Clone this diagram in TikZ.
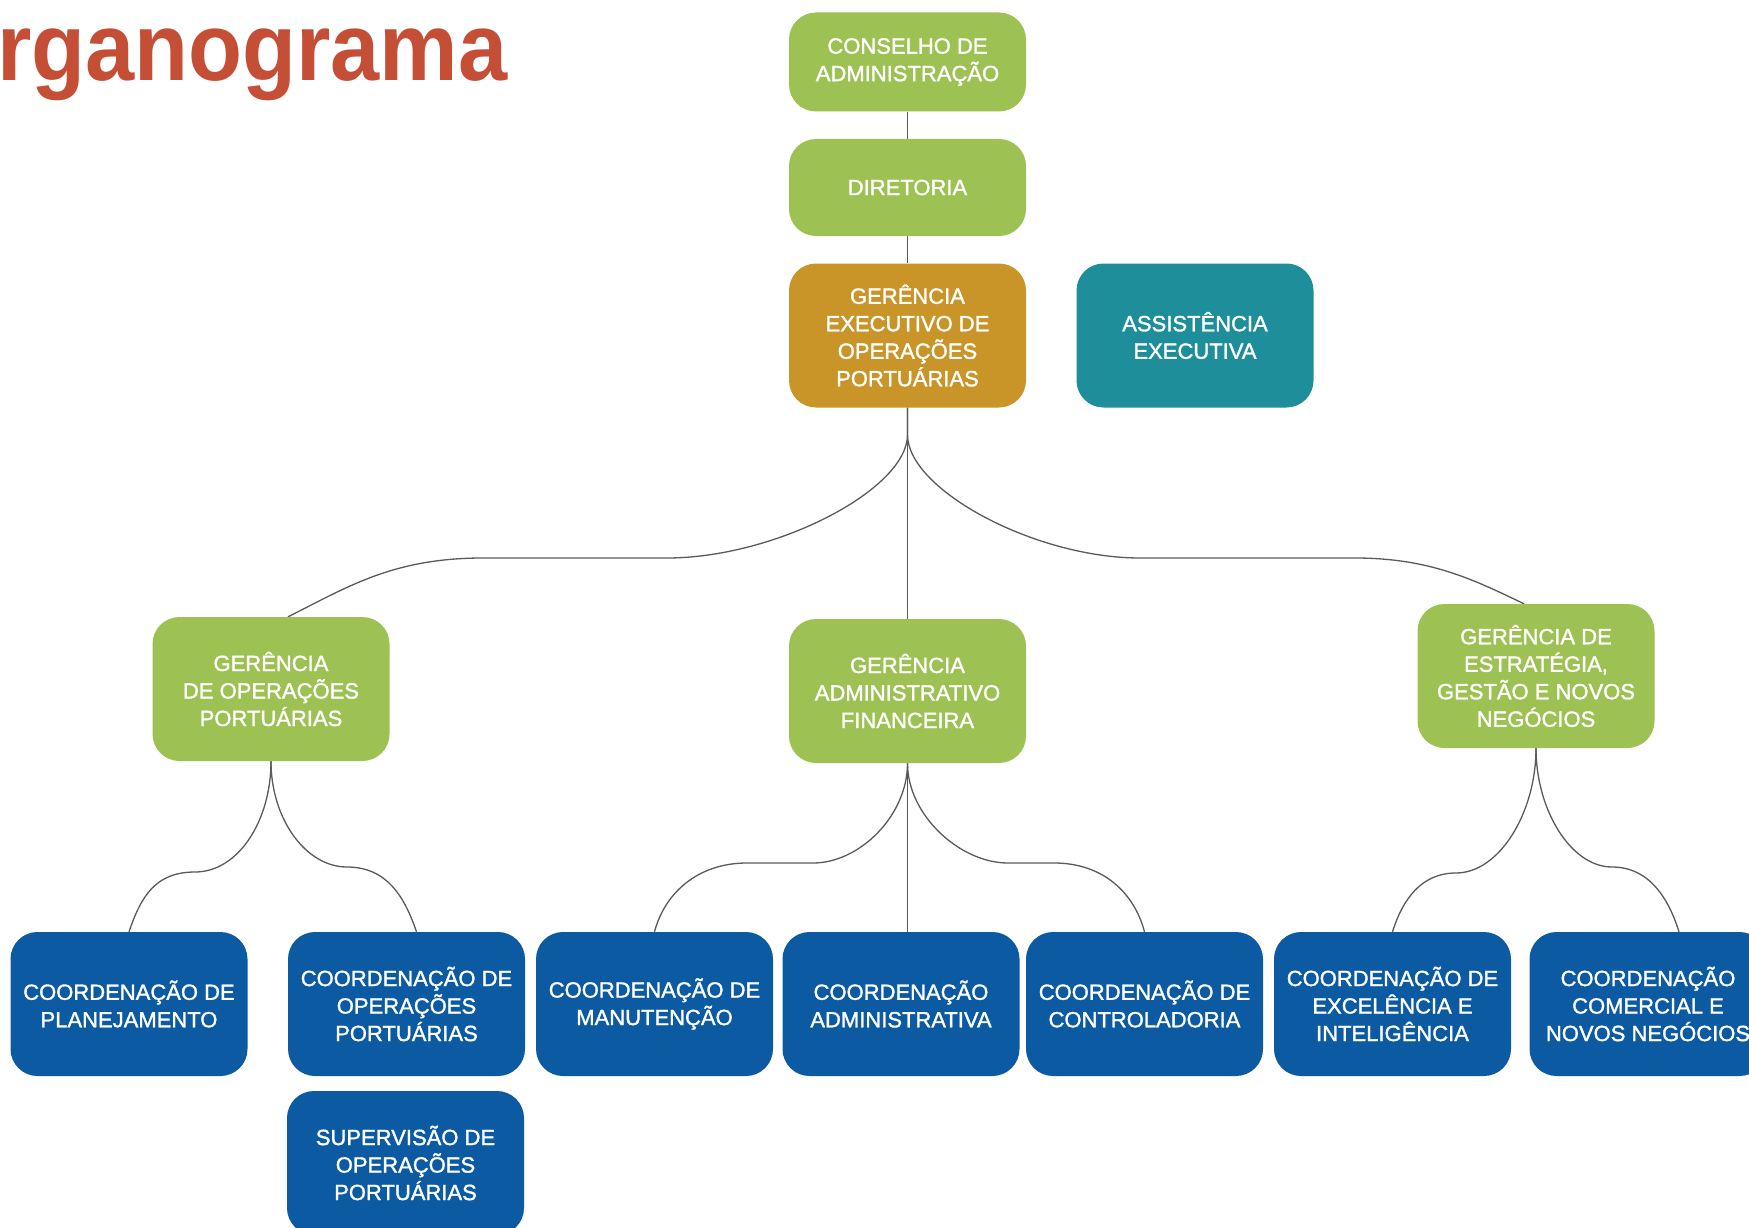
\documentclass[tikz,border=0pt]{standalone}
\usepackage{fontspec}
\usepackage{graphicx}
\setmainfont{Liberation Sans}
\newfontfamily\boxfont{Liberation Sans}[FakeBold=1.4]
\usetikzlibrary{backgrounds}
\definecolor{lgreen}{HTML}{9EC153}
\definecolor{gold}{HTML}{C99528}
\definecolor{teal}{HTML}{1E8E9B}
\definecolor{dblue}{HTML}{0B5AA2}
\definecolor{titlered}{HTML}{C54E37}
\definecolor{linkgray}{HTML}{5A5A5A}
\tikzset{
  orgbox/.style={rounded corners=27pt, minimum width=237pt, minimum height=144pt,
    inner sep=0pt, align=center, text=white, font=\boxfont\fontsize{22}{27.5}\selectfont},
  greenbox/.style={orgbox, fill=lgreen},
  goldbox/.style={orgbox, fill=gold},
  tealbox/.style={orgbox, fill=teal},
  bluebox/.style={orgbox, fill=dblue},
  link/.style={draw=linkgray, line width=1.3pt}
}
\begin{document}
\begin{tikzpicture}[x=1pt,y=-1pt]
\useasboundingbox (0,0) rectangle (1749,1228);

% title
\node[anchor=base west, inner sep=0pt, text=titlered] (title) at (-3,81)
  {\scalebox{0.92}[1]{\fontsize{96}{100}\selectfont\bfseries rganograma}};

% top column
\node[greenbox, minimum height=99pt] (cons) at (907.5,62) {CONSELHO DE\\ADMINISTRAÇÃO};
\node[greenbox, minimum height=97pt] (dir) at (907.5,187.5) {DIRETORIA};
\node[goldbox] (exec) at (907.5,335.5) {GERÊNCIA\\EXECUTIVO DE\\OPERAÇÕES\\PORTUÁRIAS};
\node[tealbox] (assist) at (1195,335.5) {ASSISTÊNCIA\\EXECUTIVA};

% managers
\node[greenbox] (gop) at (271,689) {GERÊNCIA\\DE OPERAÇÕES\\PORTUÁRIAS};
\node[greenbox] (adm) at (907.5,691) {GERÊNCIA\\ADMINISTRATIVO\\FINANCEIRA};
\node[greenbox] (estr) at (1536,676) {GERÊNCIA DE\\ESTRATÉGIA,\\GESTÃO E NOVOS\\NEGÓCIOS};

% coordinations
\node[bluebox] (plan) at (129,1004) {COORDENAÇÃO DE\\PLANEJAMENTO};
\node[bluebox] (cop) at (406.5,1004) {COORDENAÇÃO DE\\OPERAÇÕES\\PORTUÁRIAS};
\node[bluebox] (manut) at (654.5,1004) {COORDENAÇÃO DE\\MANUTENÇÃO};
\node[bluebox] (cadm) at (901,1004) {COORDENAÇÃO\\ADMINISTRATIVA};
\node[bluebox] (contr) at (1144.5,1004) {COORDENAÇÃO DE\\CONTROLADORIA};
\node[bluebox] (exc) at (1392.5,1004) {COORDENAÇÃO DE\\EXCELÊNCIA E\\INTELIGÊNCIA};
\node[bluebox] (com) at (1648,1004) {COORDENAÇÃO\\COMERCIAL E\\NOVOS NEGÓCIOS};
\node[bluebox] (sup) at (405.5,1163) {SUPERVISÃO DE\\OPERAÇÕES\\PORTUÁRIAS};

% bend points
\coordinate (h1) at (667,558);
\coordinate (h2) at (483,558);
\coordinate (h3) at (1140,558);
\coordinate (h4) at (1355,558);
\coordinate (h5) at (195,872);
\coordinate (h6) at (347,867);
\coordinate (h7) at (813,863);
\coordinate (h8) at (747,863);
\coordinate (h9) at (1008,863);
\coordinate (h10) at (1054,863);
\coordinate (h11) at (1456,873);
\coordinate (h12) at (1612,867);

\begin{pgfonlayer}{background}
\fill[white] (0,0) rectangle (1749,1228);
\draw[link] (cons.south) -- (dir.north);
\draw[link] (dir.south) -- (exec.north);
\draw[link] (exec.south) -- (adm.north);
\draw[link] (exec.south) -- ++(0,27) .. controls +(0,55) and +(108,0) .. (h1) -- (h2)
  .. controls +(-90,0) and +(60,-30) .. ([xshift=17pt]gop.north);
\draw[link] (exec.south) -- ++(0,27) .. controls +(0,55) and +(-105,0) .. (h3) -- (h4)
  .. controls +(75,0) and +(-50,-24) .. ([xshift=-12pt]estr.north);
% gop children
\draw[link] (gop.south) .. controls +(0,60) and +(43,0) .. (h5)
  .. controls +(-40,0) and +(12,-35) .. (plan.north);
\draw[link] (gop.south) .. controls +(0,58) and +(-41,0) .. (h6)
  .. controls +(40,0) and +(-12,-35) .. ([xshift=10pt]cop.north);
% adm children
\draw[link] (adm.south) -- (adm.south |- cadm.north);
\draw[link] (adm.south) .. controls +(0,52) and +(47,0) .. (h7) -- (h8)
  .. controls +(-50,0) and +(10,-38) .. (manut.north);
\draw[link] (adm.south) .. controls +(0,52) and +(-48,0) .. (h9) -- (h10)
  .. controls +(50,0) and +(-10,-38) .. (contr.north);
% estr children
\draw[link] (estr.south) .. controls +(0,65) and +(43,0) .. (h11)
  .. controls +(-35,0) and +(10,-32) .. (exc.north);
\draw[link] (estr.south) .. controls +(0,62) and +(-41,0) .. (h12)
  .. controls +(38,0) and +(-10,-32) .. ([xshift=31pt]com.north);
\end{pgfonlayer}
\end{tikzpicture}
\end{document}
